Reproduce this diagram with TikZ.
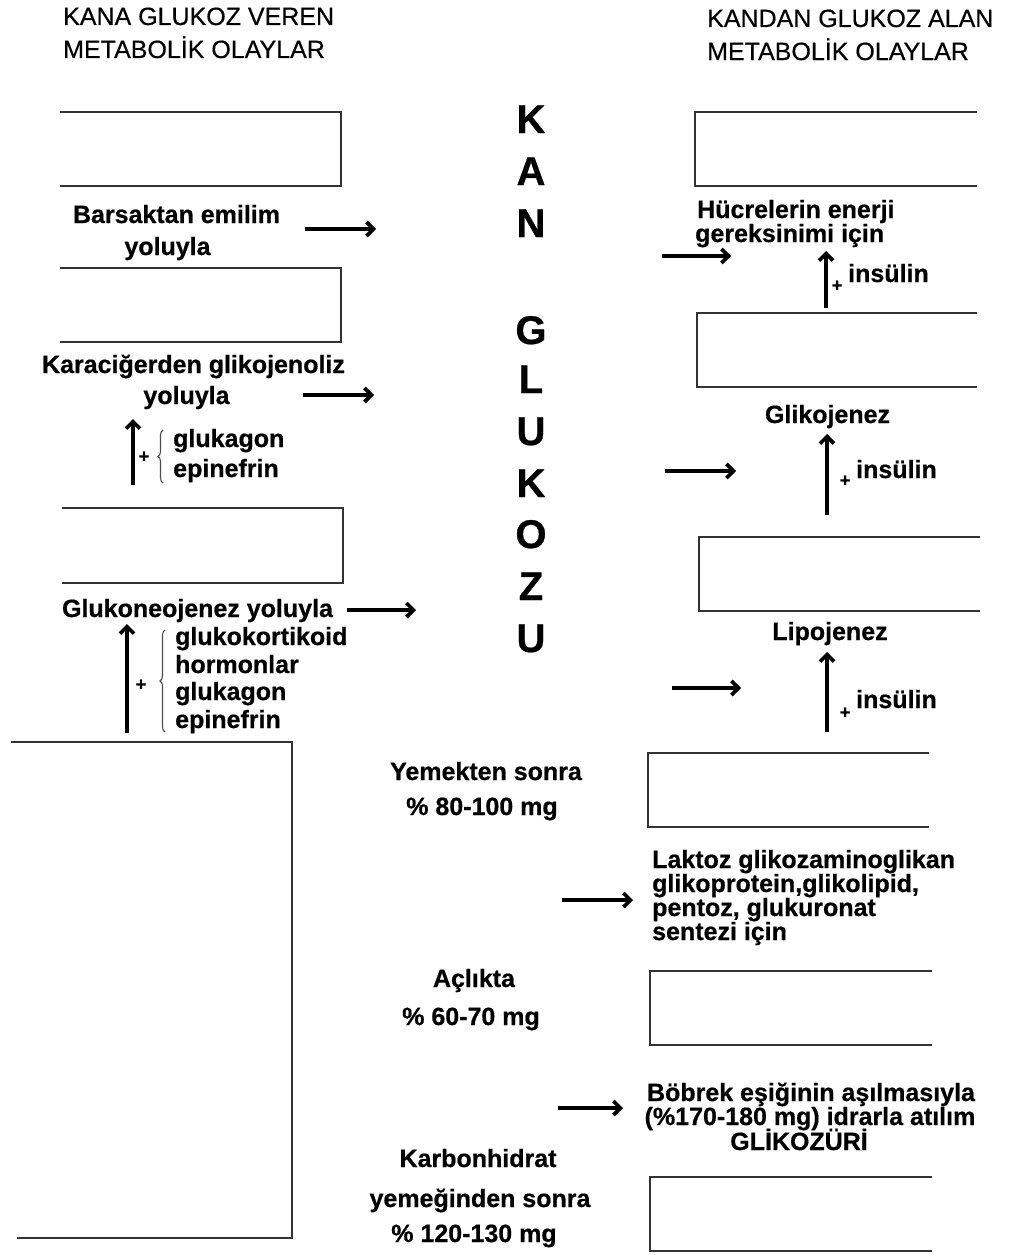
\documentclass[tikz,border=0pt]{standalone}
\usepackage{fontspec}
\setmainfont{Liberation Sans}[BoldFeatures={FakeBold=0.6}]
\newfontfamily\hdrfont{Liberation Sans}[FakeBold=0.5]
\usetikzlibrary{arrows.meta,decorations.pathreplacing}
\newcommand{\fsz}[2]{\fontsize{#1}{#2}\selectfont}
\begin{document}
\begin{tikzpicture}[x=1pt,y=-1pt,
  t/.style={inner sep=0pt, anchor=base, font=\bfseries\fsz{25}{30}},
  tw/.style={t, anchor=base west},
  hdr/.style={inner sep=0pt, anchor=base west, font=\hdrfont\fsz{25}{30}},
  big/.style={inner sep=0pt, anchor=base, font=\bfseries\fsz{40}{40}},
  plus/.style={inner sep=0pt, font=\bfseries\fsz{18}{18}},
  openbox/.style={line width=2.6pt, draw=black!80},
  arr/.style={line width=3.6pt, -{Straight Barb[length=7pt,width=14pt]}},
  brc/.style={draw=black!70, line width=1.1pt, decorate, decoration={brace, amplitude=5pt}}]
\useasboundingbox[fill=white] (0,0) rectangle (1014,1255);

% headers
\node[hdr] (hl1) at (63,25) {KANA GLUKOZ VEREN};
\node[hdr] (hl2) at (63,58) {METABOLİK OLAYLAR};
\node[hdr] (hr1) at (707,27) {KANDAN GLUKOZ ALAN};
\node[hdr] (hr2) at (707,60) {METABOLİK OLAYLAR};

% left open boxes
\draw[openbox] (60,112) -- (341,112) -- (341,186) -- (60,186);
\draw[openbox] (60,268) -- (341,268) -- (341,342) -- (60,342);
\draw[openbox] (62,508) -- (343,508) -- (343,583) -- (62,583);
\draw[openbox] (11,742) -- (292,742) -- (292,1238) -- (17,1238);

% right open boxes
\draw[openbox] (977,112) -- (695,112) -- (695,186) -- (977,186);
\draw[openbox] (977,313) -- (697,313) -- (697,387) -- (977,387);
\draw[openbox] (980,537) -- (699,537) -- (699,611) -- (980,611);
\draw[openbox] (929,753) -- (648,753) -- (648,827) -- (929,827);
\draw[openbox] (932,971) -- (650,971) -- (650,1045) -- (932,1045);
\draw[openbox] (932,1177) -- (650,1177) -- (650,1251) -- (932,1251);

% central vertical title
\node[big] (c1) at (531,133) {K};
\node[big] (c2) at (531,185) {A};
\node[big] (c3) at (531,237) {N};
\node[big] (c4) at (531,344) {G};
\node[big] (c5) at (531,393) {L};
\node[big] (c6) at (531,445) {U};
\node[big] (c7) at (531,497) {K};
\node[big] (c8) at (531,548) {O};
\node[big] (c9) at (531,600) {Z};
\node[big] (c10) at (531,652) {U};

% left texts
\node[t] (bars1) at (176.5,223) {Barsaktan emilim};
\node[t] (bars2) at (167.5,255) {yoluyla};
\node[t] (kara1) at (193.5,373) {Karaciğerden glikojenoliz};
\node[t] (kara2) at (186.5,404) {yoluyla};
\node[tw] (h1a) at (173,447) {glukagon};
\node[tw] (h1b) at (173,477) {epinefrin};
\node[plus] (p1) at (144,457) {+};
\node[t] (gluk) at (197.5,617) {Glukoneojenez yoluyla};
\node[tw] (h2a) at (175,645) {glukokortikoid};
\node[tw] (h2b) at (175,673) {hormonlar};
\node[tw] (h2c) at (175,700) {glukagon};
\node[tw] (h2d) at (175,728) {epinefrin};
\node[plus] (p2) at (141,685) {+};

% left braces
\coordinate (b1s) at (163,483); \coordinate (b1e) at (163,430);
\draw[brc] (b1s) -- (b1e);
\coordinate (b2s) at (165,732); \coordinate (b2e) at (165,630);
\draw[brc] (b2s) -- (b2e);

% left arrows
\coordinate (la1s) at (305,229); \coordinate (la1e) at (376,229);
\draw[arr] (la1s) -- (la1e);
\coordinate (la2s) at (303,395); \coordinate (la2e) at (374,395);
\draw[arr] (la2s) -- (la2e);
\coordinate (la3s) at (347,610); \coordinate (la3e) at (416,610);
\draw[arr] (la3s) -- (la3e);
\coordinate (u1s) at (133,485); \coordinate (u1e) at (133,419);
\draw[arr] (u1s) -- (u1e);
\coordinate (u2s) at (127,733); \coordinate (u2e) at (127,624);
\draw[arr] (u2s) -- (u2e);

% right texts
\node[tw] (huc1) at (697,218) {Hücrelerin enerji};
\node[tw] (huc2) at (695,242) {gereksinimi  için};
\node[plus] (p3) at (837,286) {+};
\node[tw] (ins1) at (848,282) {insülin};
\node[t] (glik) at (827.5,423) {Glikojenez};
\node[plus] (p4) at (845,481) {+};
\node[tw] (ins2) at (856,478) {insülin};
\node[t] (lipo) at (830,640) {Lipojenez};
\node[plus] (p5) at (845,713) {+};
\node[tw] (ins3) at (856,708) {insülin};

\node[tw] (lak1) at (652,868) {Laktoz glikozaminoglikan};
\node[tw] (lak2) at (652,892) {glikoprotein,glikolipid,};
\node[tw] (lak3) at (652,916) {pentoz, glukuronat};
\node[tw] (lak4) at (652,940) {sentezi için};

\node[t] (bob1) at (811,1101) {Böbrek eşiğinin aşılmasıyla};
\node[t] (bob2) at (810,1125) {(\%170-180 mg) idrarla atılım};
\node[t] (bob3) at (799,1150) {GLİKOZÜRİ};

% middle values
\node[t] (yem1) at (486,780) {Yemekten sonra};
\node[t] (yem2) at (482,815) {\% 80-100 mg};
\node[t] (acl1) at (474,987) {Açlıkta};
\node[t] (acl2) at (471,1025) {\% 60-70 mg};
\node[t] (kar1) at (478,1167) {Karbonhidrat};
\node[t] (kar2) at (480,1207) {yemeğinden sonra};
\node[t] (kar3) at (474,1242) {\% 120-130 mg};

% right arrows
\coordinate (ra1s) at (662,256); \coordinate (ra1e) at (731,256);
\draw[arr] (ra1s) -- (ra1e);
\coordinate (ra2s) at (665,471); \coordinate (ra2e) at (736,471);
\draw[arr] (ra2s) -- (ra2e);
\coordinate (ra3s) at (672,688); \coordinate (ra3e) at (741,688);
\draw[arr] (ra3s) -- (ra3e);
\coordinate (ra4s) at (562,900); \coordinate (ra4e) at (633,900);
\draw[arr] (ra4s) -- (ra4e);
\coordinate (ra5s) at (558,1108); \coordinate (ra5e) at (623,1108);
\draw[arr] (ra5s) -- (ra5e);
\coordinate (u3s) at (826,308); \coordinate (u3e) at (826,251);
\draw[arr] (u3s) -- (u3e);
\coordinate (u4s) at (827,515); \coordinate (u4e) at (827,434);
\draw[arr] (u4s) -- (u4e);
\coordinate (u5s) at (827,732); \coordinate (u5e) at (827,652);
\draw[arr] (u5s) -- (u5e);
\end{tikzpicture}
\end{document}
